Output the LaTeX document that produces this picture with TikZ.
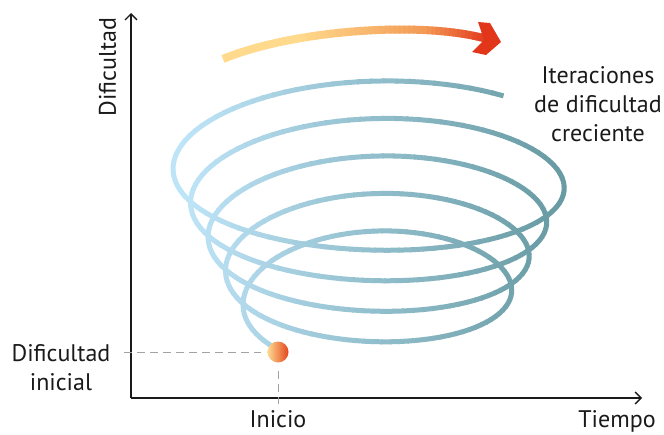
\documentclass[tikz,border=0pt]{standalone}
\usepackage{fontspec}
\setmainfont{PT Sans}
\usetikzlibrary{arrows.meta}
\definecolor{spL}{HTML}{BEE4F8}
\definecolor{spR}{HTML}{689BA3}
\definecolor{arY}{HTML}{FFDA8C}
\definecolor{arO}{HTML}{F39A55}
\definecolor{arR}{HTML}{E2361A}
\definecolor{ballL}{HTML}{FFD890}
\definecolor{ballM}{HTML}{FBB068}
\definecolor{ballR}{HTML}{E3451C}
\definecolor{guidegray}{HTML}{A3A3A3}
\definecolor{ink}{HTML}{1A1A1A}
\begin{document}
\begin{tikzpicture}[x=1pt,y=-1pt,
  axis/.style={line width=1.3pt, draw=ink, -{Straight Barb[length=6pt,width=12pt,line width=1.3pt]}},
  guide/.style={draw=guidegray, line width=1pt, dash pattern=on 8pt off 5pt},
  lab/.style={font=\fontsize{24}{29}\selectfont, text=ink, inner sep=0pt},
  spseg/.style={line width=5pt, line cap=butt},
  arseg/.style={line width=8pt, line cap=butt},
  declare function={
    spth(\u)=180-360*\u;
    spx(\u)=373+(130+17.5*\u)*cos(spth(\u));
    spy(\u)=306-34*\u-(62+3.5*\u)*sin(spth(\u))-3.5*(sin(spth(\u)))^2;
    bzx(\t)=(1-\t)^3*223+3*(1-\t)^2*\t*290+3*(1-\t)*\t^2*420+\t^3*487;
    bzy(\t)=(1-\t)^3*59+3*(1-\t)^2*\t*31+3*(1-\t)*\t^2*20+\t^3*39;
  }]
\useasboundingbox (0,0) rectangle (664,434);

% axes
\coordinate (O) at (131,398);
\coordinate (ytop) at (131,13);
\coordinate (xend) at (642,398);
\draw[axis] (O) -- (ytop);
\draw[axis] (O) -- (xend);

% spiral
\foreach \i in {0,...,447}{
  \pgfmathsetmacro\ua{-0.12+0.01*\i}
  \pgfmathsetmacro\ub{\ua+0.0115}
  \pgfmathsetmacro\xa{spx(\ua)}
  \pgfmathsetmacro\ya{spy(\ua)}
  \pgfmathsetmacro\xb{spx(\ub)}
  \pgfmathsetmacro\yb{spy(\ub)}
  \pgfmathsetmacro\p{max(0,min(100,(0.5*(\xa+\xb)-185)/3.7))}
  \draw[spseg, draw=spR!\p!spL] (\xa,\ya) -- (\xb,\yb);
}

% gradient arrow
\foreach \i in {0,...,59}{
  \pgfmathsetmacro\ta{\i/60}
  \pgfmathsetmacro\tb{min(1,(\i+1.3)/60)}
  \pgfmathsetmacro\xa{bzx(\ta)}
  \pgfmathsetmacro\ya{bzy(\ta)}
  \pgfmathsetmacro\xb{bzx(\tb)}
  \pgfmathsetmacro\yb{bzy(\tb)}
  \pgfmathsetmacro\xm{0.5*(\xa+\xb)}
  \pgfmathsetmacro\pone{max(0,min(100,(\xm-300)/1.25))}
  \pgfmathsetmacro\pthree{100-max(0,min(100,(\xm-425)/0.65))}
  \draw[arseg, draw=arO!\pone!arY!\pthree!arR] (\xa,\ya) -- (\xb,\yb);
}
\fill[arR] (478,22) -- (490,23) -- (501,42) -- (486,55) -- (472,52) -- (484,40) -- cycle;

% start ball and guides
\node[circle, minimum size=21pt, inner sep=0pt, left color=ballL, middle color=ballM, right color=ballR] (ball) at (278,352) {};
\coordinate (h0) at (124,352);
\coordinate (v1) at (278,404);
\draw[guide] (h0) -- ([xshift=-6pt]ball.west);
\draw[guide] ([yshift=-8pt]ball.south) -- (v1);

% labels
\node[lab, rotate=90] (ylab) at (107.5,67) {Dificultad};
\node[lab, align=center] (dinit) at (61,368) {Dificultad\\inicial};
\node[lab, anchor=base] (inicio) at (278,427) {Inicio};
\node[lab, anchor=base] (tiempo) at (617,427) {Tiempo};
\node[lab, align=center] (iter) at (598,104) {Iteraciones\\de dificultad\\creciente};
\end{tikzpicture}
\end{document}
